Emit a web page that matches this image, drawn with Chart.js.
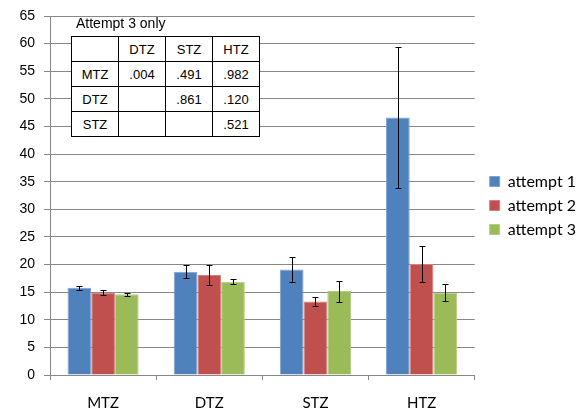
<!DOCTYPE html>
<html>
<head>
<meta charset="utf-8">
<title>Attempts by zone</title>
<script src="https://cdn.jsdelivr.net/npm/chart.js@4.4.0/dist/chart.umd.min.js"></script>
<style>
  html, body { margin: 0; padding: 0; background: #fff; }
  #wrap { position: relative; width: 577px; height: 414px; }
  #grafico { display: block; }
  #nota {
    position: absolute; left: 76px; top: 15px;
    font: 14px "Liberation Sans", Arial, sans-serif; color: #000;
  }
  #tabelaP {
    position: absolute; left: 71px; top: 36px;
    border-collapse: collapse; background: #fff;
    font: 13px "Liberation Sans", Arial, sans-serif; color: #000;
  }
  #tabelaP td {
    border: 1px solid #000; width: 46px; height: 24px;
    padding: 0; text-align: center;
  }
</style>
</head>
<body>
<div id="wrap">
  <canvas id="grafico" width="577" height="414"></canvas>
  <div id="nota">Attempt 3 only</div>
  <table id="tabelaP">
    <tr><td></td><td>DTZ</td><td>STZ</td><td>HTZ</td></tr>
    <tr><td>MTZ</td><td>.004</td><td>.491</td><td>.982</td></tr>
    <tr><td>DTZ</td><td></td><td>.861</td><td>.120</td></tr>
    <tr><td>STZ</td><td></td><td></td><td>.521</td></tr>
  </table>
</div>
<script>
// DADOS
const categorias = ["MTZ", "DTZ", "STZ", "HTZ"];
const tentativa1 = [15.8, 18.7, 19.1, 46.6];
const tentativa2 = [14.9, 18.1, 13.3, 20.1];
const tentativa3 = [14.6, 16.9, 15.2, 14.9];
const erro1 = [0.4, 1.2, 2.2, 12.7];
const erro2 = [0.4, 1.8, 0.8, 3.2];
const erro3 = [0.3, 0.5, 1.9, 1.5];
const ticksY = [0, 65, 5]; // min, max, passo

// plugin simples para as barras de erro
const barrasErro = {
  id: "barrasErro",
  afterDatasetsDraw(chart) {
    const ctx = chart.ctx;
    const y = chart.scales.y;
    ctx.save();
    ctx.strokeStyle = "#000";
    ctx.lineWidth = 1;
    chart.data.datasets.forEach((ds, i) => {
      const meta = chart.getDatasetMeta(i);
      meta.data.forEach((barra, j) => {
        const e = ds.erros[j];
        const v = ds.data[j];
        const x = Math.round(barra.x) + 0.5;
        const yTop = Math.round(y.getPixelForValue(v + e)) + 0.5;
        const yBot = Math.round(y.getPixelForValue(v - e)) + 0.5;
        ctx.beginPath();
        ctx.moveTo(x, yTop); ctx.lineTo(x, yBot);
        ctx.moveTo(x - 3, yTop); ctx.lineTo(x + 3, yTop);
        ctx.moveTo(x - 3, yBot); ctx.lineTo(x + 3, yBot);
        ctx.stroke();
      });
    });
    ctx.restore();
  }
};

// empurra a legenda um pouco para a direita
const ajusteLegenda = {
  id: "ajusteLegenda",
  afterLayout(chart) {
    chart.legend.left += 7;
    chart.legend.right += 7;
  }
};

Chart.defaults.font.family = "Lato, 'Open Sans', sans-serif";
Chart.defaults.color = "#000";

new Chart(document.getElementById("grafico"), {
  type: "bar",
  data: {
    labels: categorias,
    datasets: [
      { label: "attempt 1", data: tentativa1, erros: erro1, backgroundColor: "#4F81BD", borderColor: "#7FA3D0", borderWidth: 1 },
      { label: "attempt 2", data: tentativa2, erros: erro2, backgroundColor: "#C0504D", borderColor: "#D47F7D", borderWidth: 1 },
      { label: "attempt 3", data: tentativa3, erros: erro3, backgroundColor: "#9BBB59", borderColor: "#B5CE85", borderWidth: 1 },
    ],
  },
  options: {
    responsive: false,
    animation: false,
    layout: { padding: { top: -3, left: 17, right: -2, bottom: 0 } },
    datasets: { bar: { categoryPercentage: 0.67, barPercentage: 1 } },
    plugins: {
      tooltip: { enabled: false },
      legend: {
        position: "right",
        labels: { boxWidth: 10, boxHeight: 10, padding: 8, font: { size: 16 } },
      },
    },
    scales: {
      x: {
        afterFit: (s) => { s.height = 39; },
        grid: { drawOnChartArea: false, tickLength: 5, color: "#888" },
        border: { color: "#888" },
        ticks: { padding: 14, font: { size: 15 } },
      },
      y: {
        min: ticksY[0],
        max: ticksY[1],
        afterFit: (s) => { s.width = 33; },
        ticks: { stepSize: ticksY[2], padding: 9, font: { size: 14, lineHeight: 1, family: "'Liberation Sans', Arial, sans-serif" } },
        grid: { color: "#888", tickLength: 6 },
        border: { color: "#888" },
      },
    },
  },
  plugins: [barrasErro, ajusteLegenda],
});
</script>
</body>
</html>
